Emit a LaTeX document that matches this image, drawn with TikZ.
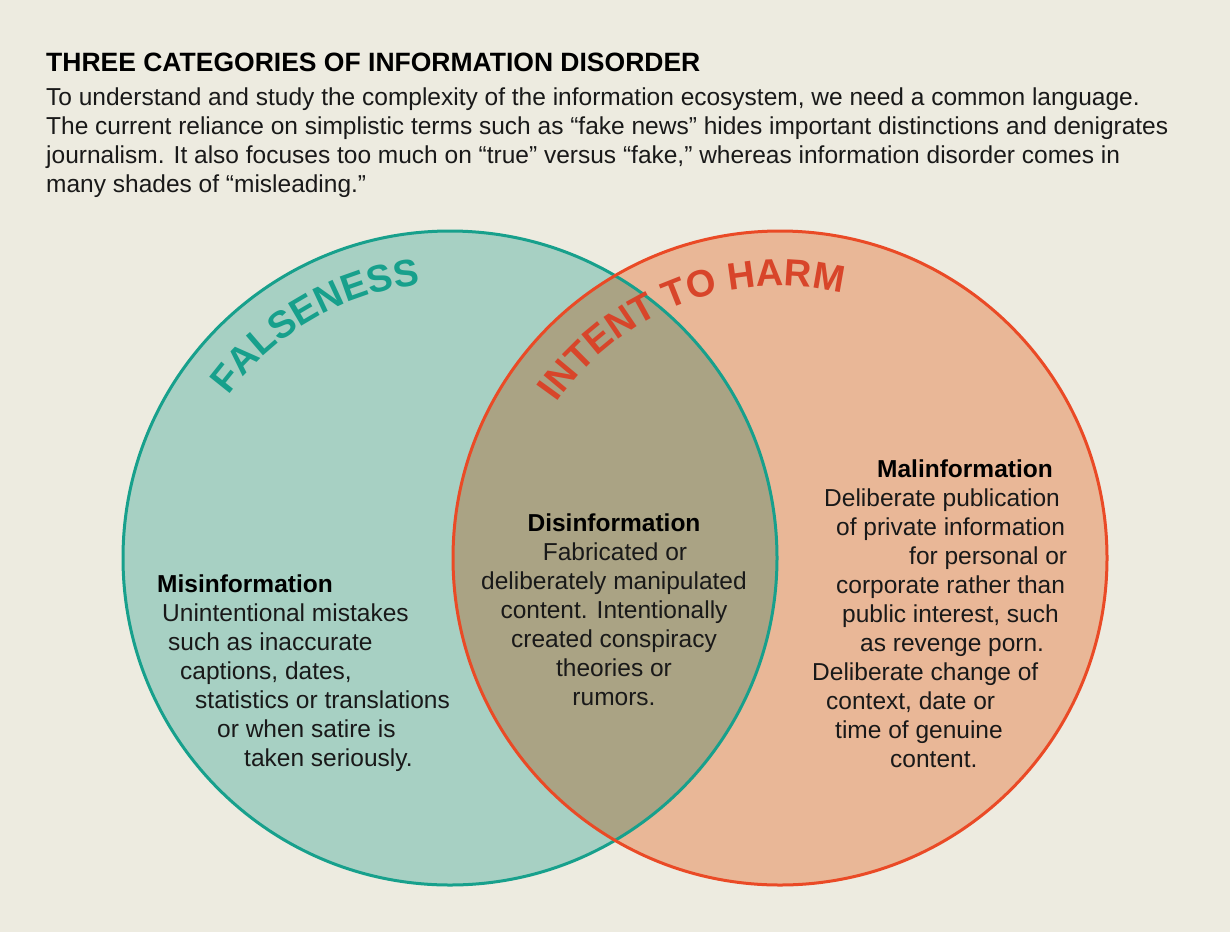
\documentclass[tikz,border=0pt]{standalone}
\usepackage{fontspec}
\setmainfont{Liberation Sans}
\usetikzlibrary{decorations.text,calc}
\definecolor{bg}{HTML}{EDEBE0}
\definecolor{tealfill}{HTML}{A7D0C3}
\definecolor{tealline}{HTML}{17A08C}
\definecolor{redfill}{HTML}{E9B797}
\definecolor{redline}{HTML}{EA4A26}
\definecolor{midfill}{HTML}{AAA384}
\definecolor{harm}{HTML}{D8452A}
\begin{document}
\begin{tikzpicture}[x=1pt,y=-1pt,
  body/.style={anchor=base west,inner sep=0pt,font=\fontsize{24.5}{28}\selectfont,text=black!90},
  cbody/.style={anchor=base,inner sep=0pt,font=\fontsize{24.5}{28}\selectfont,text=black!90},
  hd/.style={anchor=base west,inner sep=0pt,font=\fontsize{24.5}{28}\selectfont\bfseries,text=black},
  chd/.style={anchor=base,inner sep=0pt,font=\fontsize{24.5}{28}\selectfont\bfseries,text=black}]
\fill[bg] (0,0) rectangle (1230,932);
\useasboundingbox (0,0) rectangle (1230,932);
% circles
\fill[tealfill] (450,558) circle (327);
\fill[redfill] (780,558) circle (327);
\begin{scope}
\clip (450,558) circle (327);
\fill[midfill] (780,558) circle (327);
\end{scope}
\draw[tealline,line width=3pt] (450,558) circle (327);
\draw[redline,line width=3pt] (780,558) circle (327);
% arc labels
\path[decorate,decoration={text along path,text align=center,
  text={|\fontsize{38}{40}\selectfont\bfseries\color{tealline}|FALSENESS}}]
  ($(450,558)+(-150:275)$) arc[start angle=-150,end angle=-90,radius=275];
\path[decorate,decoration={text along path,text align=center,
  text={|\fontsize{38}{40}\selectfont\bfseries\color{harm}|INTENT TO HARM}}]
  ($(780,558)+(-148:272)$) arc[start angle=-148,end angle=-74,radius=272];
% header
\node[anchor=base west,inner sep=0pt,font=\fontsize{26.5}{30}\selectfont\bfseries] (title) at (46,71) {THREE CATEGORIES OF INFORMATION DISORDER};
\node[body] (h1) at (46,105) {To understand and study the complexity of the information ecosystem, we need a common language.};
\node[body] (h2) at (46,134) {The current reliance on simplistic terms such as “fake news” hides important distinctions and denigrates};
\node[body] (h3) at (46,163) {journalism. It also focuses too much on “true” versus “fake,” whereas information disorder comes in};
\node[body] (h4) at (46,192) {many shades of “misleading.”};
% misinformation
\node[hd] (mis) at (157,592) {Misinformation};
\node[body] (m1) at (162,621) {Unintentional mistakes};
\node[body] (m2) at (168,650) {such as inaccurate};
\node[body] (m3) at (180,679) {captions, dates,};
\node[body] (m4) at (195,708) {statistics or translations};
\node[body] (m5) at (217,737) {or when satire is};
\node[body] (m6) at (244,766) {taken seriously.};
% disinformation
\node[chd] (dis) at (614,531) {Disinformation};
\node[cbody] (d1) at (615,560) {Fabricated or};
\node[cbody] (d2) at (614,589) {deliberately manipulated};
\node[cbody] (d3) at (614,618) {content. Intentionally};
\node[cbody] (d4) at (614,647) {created conspiracy};
\node[cbody] (d5) at (614,676) {theories or};
\node[cbody] (d6) at (614,705) {rumors.};
% malinformation
\node[hd] (mal) at (877,477) {Malinformation};
\node[body] (l1) at (824,506) {Deliberate publication};
\node[body] (l2) at (836,535) {of private information};
\node[body] (l3) at (909,564) {for personal or};
\node[body] (l4) at (836,593) {corporate rather than};
\node[body] (l5) at (842,622) {public interest, such};
\node[body] (l6) at (860,651) {as revenge porn.};
\node[body] (l7) at (812,680) {Deliberate change of};
\node[body] (l8) at (826,709) {context, date or};
\node[body] (l9) at (835,738) {time of genuine};
\node[body] (l10) at (890,767) {content.};
\end{tikzpicture}
\end{document}
